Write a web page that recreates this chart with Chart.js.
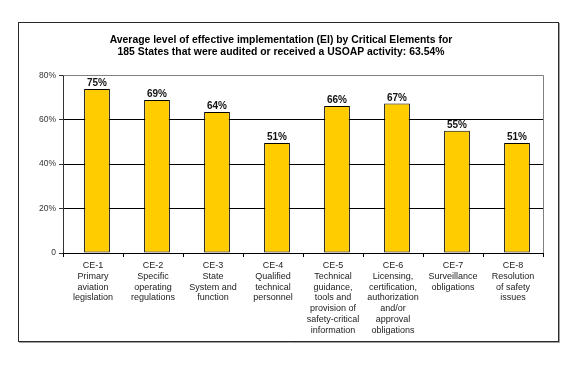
<!DOCTYPE html>
<html>
<head>
<meta charset="utf-8">
<script src="https://cdn.jsdelivr.net/npm/chart.js@4.4.1/dist/chart.umd.min.js"></script>
<style>
  html, body { margin: 0; padding: 0; background: #fff; }
  canvas { display: block; }
</style>
</head>
<body>
<canvas id="c" width="576" height="367"></canvas>
<script>
const categories = [
  ["CE-1", "Primary", "aviation", "legislation"],
  ["CE-2", "Specific", "operating", "regulations"],
  ["CE-3", "State", "System and", "function"],
  ["CE-4", "Qualified", "technical", "personnel"],
  ["CE-5", "Technical", "guidance,", "tools and", "provision of", "safety-critical", "information"],
  ["CE-6", "Licensing,", "certification,", "authorization", "and/or", "approval", "obligations"],
  ["CE-7", "Surveillance", "obligations"],
  ["CE-8", "Resolution", "of safety", "issues"]
];
const barValues = [73.8, 68.9, 63.5, 49.5, 66.2, 67.3, 55.0, 49.5];
const valueLabels = ["75%", "69%", "64%", "51%", "66%", "67%", "55%", "51%"];
const yTicks = [0, 20, 40, 60, 80];
const titleLines = [
  "Average level of effective implementation (EI) by Critical Elements for",
  "185 States that were audited or received a USOAP activity: 63.54%"
];

const FONT = "'Liberation Sans', Arial, Helvetica, sans-serif";
const BAR_SHIFT = 4; // Excel draws the bars slightly right of the category centre

const frame = {
  id: 'frame',
  beforeDraw(chart) {
    const ctx = chart.ctx;
    ctx.save();
    ctx.fillStyle = '#fff';
    ctx.fillRect(0, 0, chart.width, chart.height);
    ctx.strokeStyle = '#a0a0a0';
    ctx.lineWidth = 1;
    ctx.beginPath();
    ctx.moveTo(559.5, 23); ctx.lineTo(559.5, 342.5); ctx.lineTo(19, 342.5);
    ctx.stroke();
    ctx.strokeStyle = '#2a2a2a';
    ctx.strokeRect(18.5, 22.5, 540, 319);
    ctx.restore();
  },
  beforeDatasetsDraw(chart) {
    const a = chart.chartArea, ctx = chart.ctx;
    ctx.save();
    ctx.strokeStyle = '#808080';
    ctx.lineWidth = 1;
    ctx.beginPath();
    ctx.moveTo(Math.round(a.left) + 0.5, Math.round(a.top) + 0.5);
    ctx.lineTo(Math.round(a.right) + 0.5, Math.round(a.top) + 0.5);
    ctx.lineTo(Math.round(a.right) + 0.5, Math.round(a.bottom));
    ctx.stroke();
    ctx.restore();
    ctx.save();
    ctx.translate(BAR_SHIFT, 0);
  },
  afterDatasetsDraw(chart) {
    const ctx = chart.ctx;
    const meta = chart.getDatasetMeta(0);
    ctx.save();
    ctx.fillStyle = '#111';
    ctx.font = 'bold 10px ' + FONT;
    ctx.textAlign = 'center';
    ctx.textBaseline = 'alphabetic';
    meta.data.forEach((bar, i) => {
      ctx.fillText(valueLabels[i], bar.x, bar.y - 2.5);
    });
    ctx.restore();
    ctx.restore();
  }
};

new Chart(document.getElementById('c'), {
  type: 'bar',
  data: {
    labels: categories,
    datasets: [{
      data: barValues,
      backgroundColor: '#FFCC00',
      borderColor: '#000',
      borderWidth: 1,
      borderSkipped: false,
      barPercentage: 0.43,
      categoryPercentage: 1.0
    }]
  },
  options: {
    responsive: false,
    animation: false,
    devicePixelRatio: 1,
    layout: { padding: { left: 19, right: 33, top: 22, bottom: 26 } },
    plugins: {
      legend: { display: false },
      tooltip: { enabled: false },
      title: {
        display: true,
        text: titleLines,
        color: '#000',
        font: { family: FONT, size: 10.4, weight: 'bold', lineHeight: 1.15 },
        padding: { top: 12.4, bottom: 16.9 }
      }
    },
    scales: {
      y: {
        min: 0, max: 80,
        afterFit(s) { s.width = 44; },
        afterBuildTicks(s) { s.ticks = yTicks.map(v => ({ value: v })); },
        ticks: {
          color: '#333',
          font: { family: FONT, size: 8.5 },
          padding: 3,
          callback: v => v === 0 ? '0' : v + '%'
        },
        grid: {
          color: c => (c.tick && c.tick.value === 80) ? '#808080' : '#000',
          tickColor: '#333',
          tickLength: 4,
          lineWidth: 1
        },
        border: { color: '#333', width: 1 }
      },
      x: {
        afterFit(s) { s.height = 88; },
        ticks: {
          color: '#222',
          font: { family: FONT, size: 9, lineHeight: 1.19 },
          padding: 3.5,
          maxRotation: 0,
          autoSkip: false
        },
        grid: {
          offset: true,
          drawOnChartArea: false,
          drawTicks: true,
          tickLength: 4,
          color: '#000'
        },
        border: { color: '#000', width: 1 }
      }
    }
  },
  plugins: [frame]
});
</script>
</body>
</html>
